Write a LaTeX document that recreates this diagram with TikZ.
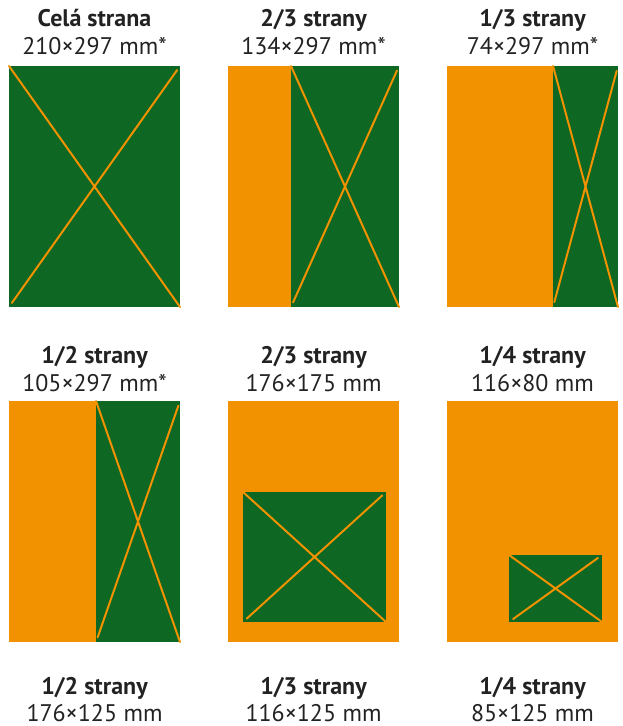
\documentclass[tikz,border=0pt]{standalone}
\usepackage{fontspec}
\setmainfont{PT Sans}
\usepackage{tikz}
\usetikzlibrary{fit}
\definecolor{zelena}{RGB}{14,104,35}
\definecolor{oranzova}{RGB}{242,146,0}
\definecolor{text}{RGB}{34,34,34}

\begin{document}
\begin{tikzpicture}[x=0.5pt, y=-0.5pt,
      strana/.style={fill=oranzova, inner sep=0pt, outer sep=0pt},
      plocha/.style={fill=zelena, inner sep=0pt, outer sep=0pt},
      krizek/.style={draw=oranzova, line width=1pt, line cap=round,
                     shorten <=2.5pt, shorten >=2.5pt},
      nadpis/.style={anchor=base, text=text, inner sep=0pt,
                     font=\fontsize{12}{14}\selectfont\bfseries},
      rozmer/.style={anchor=base, text=text, inner sep=0pt,
                     font=\fontsize{12}{14}\selectfont}]
    \useasboundingbox (0,0) rectangle (622,726);

    % first row
    \node[strana, fit={(9,66) (180,307)}] (A) {};
    \node[plocha, fit={(9,66) (180,307)}] (Ag) {};
    \node[strana, fit={(228,66) (399,307)}] (B) {};
    \node[plocha, fit={(291,66) (399,307)}] (Bg) {};
    \node[strana, fit={(447,66) (618,307)}] (C) {};
    \node[plocha, fit={(553,66) (618,307)}] (Cg) {};

    % second row
    \node[strana, fit={(9,401) (180,642)}] (D) {};
    \node[plocha, fit={(96,401) (180,642)}] (Dg) {};
    \node[strana, fit={(228,401) (399,642)}] (E) {};
    \node[plocha, fit={(243,492) (386,622)}] (Eg) {};
    \node[strana, fit={(447,401) (618,642)}] (F) {};
    \node[plocha, fit={(509,555) (602,622)}] (Fg) {};

    \foreach \g in {Ag,Bg,Cg,Dg,Eg,Fg}
      \draw[krizek] (\g.north west) -- (\g.south east)
                    (\g.north east) -- (\g.south west);

    % labels
    \node[nadpis] at (94.5,27) {Celá strana};
    \node[rozmer] at (94.5,55) {210×297 mm*};
    \node[nadpis] at (313.5,27) {2/3 strany};
    \node[rozmer] at (313.5,55) {134×297 mm*};
    \node[nadpis] at (532.5,27) {1/3 strany};
    \node[rozmer] at (532.5,55) {74×297 mm*};

    \node[nadpis] at (94.5,363) {1/2 strany};
    \node[rozmer] at (94.5,391) {105×297 mm*};
    \node[nadpis] at (313.5,363) {2/3 strany};
    \node[rozmer] at (313.5,391) {176×175 mm};
    \node[nadpis] at (532.5,363) {1/4 strany};
    \node[rozmer] at (532.5,391) {116×80 mm};

    \node[nadpis] at (94.5,694) {1/2 strany};
    \node[rozmer] at (94.5,721) {176×125 mm};
    \node[nadpis] at (313.5,694) {1/3 strany};
    \node[rozmer] at (313.5,721) {116×125 mm};
    \node[nadpis] at (532.5,694) {1/4 strany};
    \node[rozmer] at (532.5,721) {85×125 mm};
  \end{tikzpicture}
\end{document}
